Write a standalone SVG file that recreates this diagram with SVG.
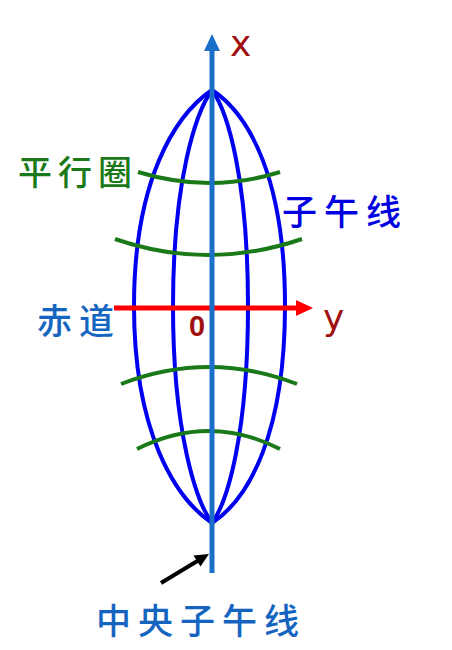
<svg xmlns="http://www.w3.org/2000/svg" width="452" height="650" viewBox="0 0 452 650">
<style>
.mer{fill:none;stroke:#0000f0;stroke-width:4}
.par{fill:none;stroke:#1a7a1a;stroke-width:4}
.cjk{font-family:"Noto Sans CJK SC","Noto Sans",sans-serif;font-weight:500}
.lat{font-family:"DejaVu Sans",sans-serif;fill:#a01010}
</style>
<rect width="452" height="650" fill="#fff"/>
<g id="meridians">
<path class="mer" d="M212,90 C175,115 134,180 134,306 C134,432 175,498 212,523"/>
<path class="mer" d="M212,90 C196,112 173,180 173,306 C173,432 196,501 212,523"/>
<path class="mer" d="M212,90 C228,112 248,180 248,306 C248,432 228,501 212,523"/>
<path class="mer" d="M212,90 C250,115 285,180 285,306 C285,432 250,498 212,523"/>
</g>
<g id="parallels">
<path class="par" d="M138,172 Q210,194 280,172"/>
<path class="par" d="M115,239 Q208,271 302,239"/>
<path class="par" d="M121,384 Q209,350 297,384"/>
<path class="par" d="M137,449 Q209,413 280,449"/>
</g>
<g id="connectors">
<line x1="114" y1="308" x2="300" y2="308" stroke="#ff0000" stroke-width="5"/>
<polygon points="296,300 313,308 296,316" fill="#ff0000"/>
<line x1="212" y1="48" x2="212" y2="573" stroke="#1a6fc8" stroke-width="5"/>
<polygon points="212,34 220,51 204,51" fill="#1a6fc8"/>
<line x1="161" y1="583" x2="199" y2="560" stroke="#000" stroke-width="4"/>
<polygon points="209,554 200.5,566.5 193.5,555.5" fill="#000"/>
</g>
<g id="label-x"><text class="lat" x="230" y="56" font-size="36">x</text></g>
<g id="label-y"><text class="lat" x="323" y="330" font-size="36">y</text></g>
<g id="label-0"><text x="189" y="336" font-size="29" font-weight="bold" font-family="Liberation Sans,sans-serif" fill="#a01010">0</text></g>
<g id="label-parallel"><text class="cjk" x="18" y="185" font-size="34" letter-spacing="6" fill="#1a7a1a">平行圈</text></g>
<g id="label-meridian"><text class="cjk" x="282" y="225" font-size="35" letter-spacing="7" fill="#0000e0">子午线</text></g>
<g id="label-equator"><text class="cjk" x="37" y="334" font-size="35" letter-spacing="7" fill="#1565c0">赤道</text></g>
<g id="label-central"><text class="cjk" x="96" y="634" font-size="35" letter-spacing="7" fill="#1565c0">中央子午线</text></g>
</svg>
